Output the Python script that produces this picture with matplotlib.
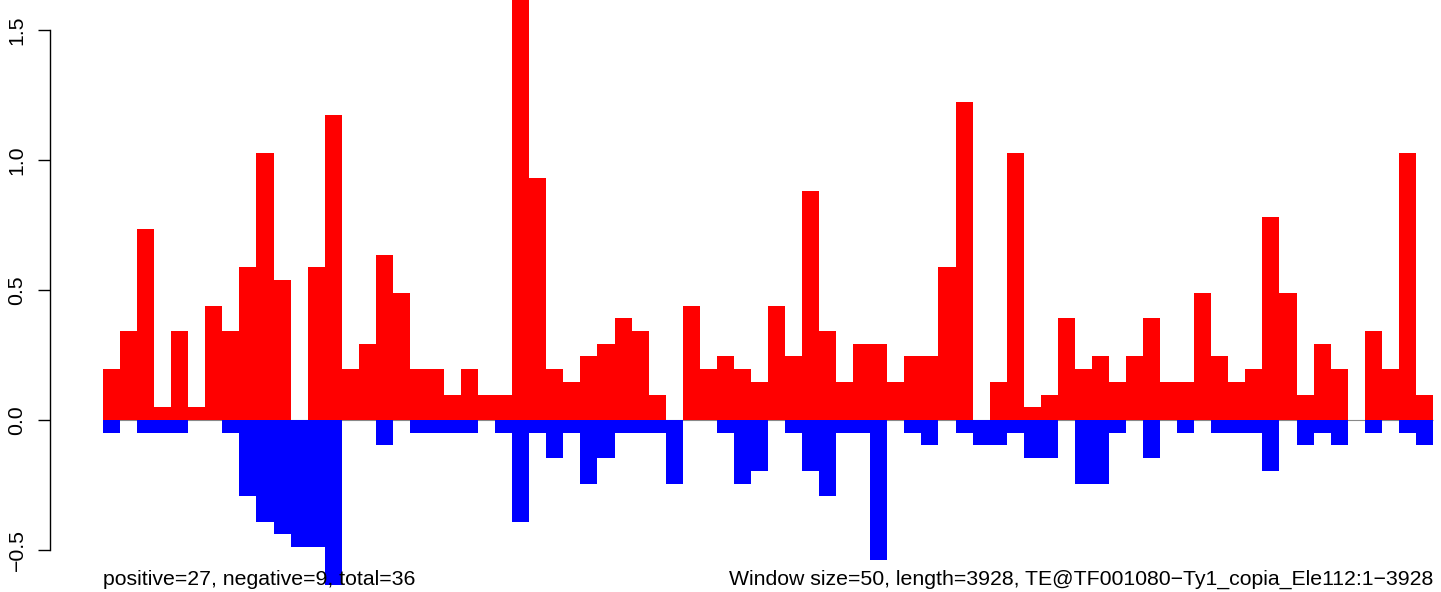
import matplotlib
matplotlib.use("Agg")
import matplotlib.pyplot as plt
import numpy as np

plt.rcParams['font.family'] = ['Liberation Sans', 'DejaVu Sans']

# values per 50-bp window (78 windows)
positive = [0.196, 0.342, 0.734, 0.049, 0.342, 0.049, 0.440, 0.342, 0.587, 1.027,
            0.538, 0.0, 0.587, 1.174, 0.196, 0.293, 0.636, 0.489, 0.196, 0.196,
            0.098, 0.196, 0.098, 0.098, 1.663, 0.929, 0.196, 0.147, 0.245, 0.293,
            0.391, 0.342, 0.098, 0.0, 0.440, 0.196, 0.245, 0.196, 0.147, 0.440,
            0.245, 0.880, 0.342, 0.147, 0.293, 0.293, 0.147, 0.245, 0.245, 0.587,
            1.223, 0.0, 0.147, 1.027, 0.049, 0.098, 0.391, 0.196, 0.245, 0.147,
            0.245, 0.391, 0.147, 0.147, 0.489, 0.245, 0.147, 0.196, 0.782, 0.489,
            0.098, 0.293, 0.196, 0.0, 0.342, 0.196, 1.027, 0.098]
negative = [-0.049, 0.0, -0.049, -0.049, -0.049, 0.0, 0.0, -0.049, -0.293, -0.391,
            -0.440, -0.489, -0.489, -0.636, 0.0, 0.0, -0.098, 0.0, -0.049, -0.049,
            -0.049, -0.049, 0.0, -0.049, -0.391, -0.049, -0.147, -0.049, -0.245, -0.147,
            -0.049, -0.049, -0.049, -0.245, 0.0, 0.0, -0.049, -0.245, -0.196, 0.0,
            -0.049, -0.196, -0.293, -0.049, -0.049, -0.538, 0.0, -0.049, -0.098, 0.0,
            -0.049, -0.098, -0.098, -0.049, -0.147, -0.147, 0.0, -0.245, -0.245, -0.049,
            0.0, -0.147, 0.0, -0.049, 0.0, -0.049, -0.049, -0.049, -0.196, 0.0,
            -0.098, -0.049, -0.098, 0.0, -0.049, 0.0, -0.049, -0.098]
yticks = [-0.5, 0.0, 0.5, 1.0, 1.5]
ytick_labels = ["\u22120.5", "0.0", "0.5", "1.0", "1.5"]
left_text = "positive=27, negative=9, total=36"
right_text = "Window size=50, length=3928, TE@TF001080\u2212Ty1_copia_Ele112:1\u22123928"

W, H, DPI = 1441, 592, 100
FS = 15.3
fig = plt.figure(figsize=(W / DPI, H / DPI), dpi=DPI)
ax = fig.add_axes([0, 0, 1, 1])

n = len(positive)
x = np.arange(n)
bar_px = 17.05
x0_px = 103
ax.set_xlim(-x0_px / bar_px, (W - x0_px) / bar_px)
ytop = 420 / 260
ax.set_ylim(ytop - H / 260, ytop)

ax.hlines(0, 0, n, color='#888888', lw=0.8, zorder=1)
ax.bar(x, positive, width=1.0, align='edge', color='#FF0000', linewidth=0,
       antialiased=False, zorder=2)
ax.bar(x, negative, width=1.0, align='edge', color='#0000FF', linewidth=0,
       antialiased=False, zorder=2)

for s in ['top', 'right', 'bottom']:
    ax.spines[s].set_visible(False)
ax.spines['left'].set_position(('data', (50 - x0_px) / bar_px))
ax.spines['left'].set_bounds(-0.5, 1.5)
ax.spines['left'].set_linewidth(1.0)
ax.set_xticks([])
ax.set_yticks(yticks)
ax.set_yticklabels(ytick_labels, rotation=90, va='center', fontsize=FS)
ax.tick_params(axis='y', length=8.6, width=1.0, pad=8.3)
ax.patch.set_alpha(0)

ybase = ytop - 585 / 260
ax.text(0, ybase, left_text, ha='left', va='baseline', fontsize=FS, zorder=3)
ax.text(n, ybase, right_text, ha='right', va='baseline', fontsize=FS, zorder=3)

fig.savefig("out.png", dpi=DPI)
